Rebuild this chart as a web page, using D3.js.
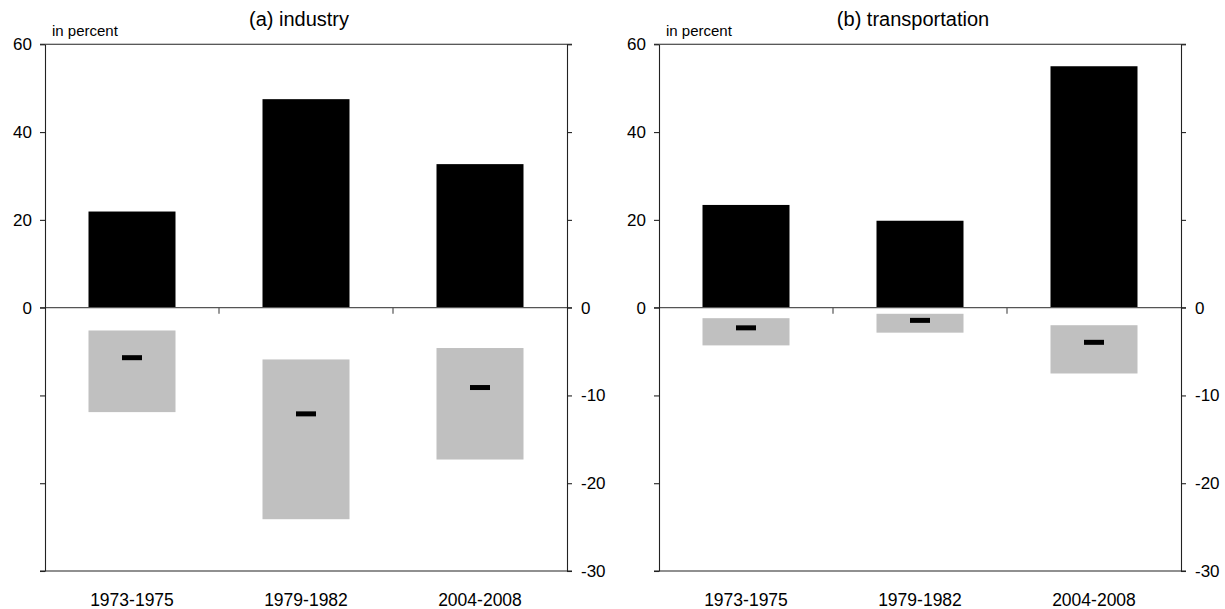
<!DOCTYPE html>
<html>
<head>
<meta charset="utf-8">
<script src="https://cdn.jsdelivr.net/npm/d3@7"></script>
<style>
  body { margin: 0; background: #fff; }
  svg { display: block; font-family: "Liberation Sans", Arial, Helvetica, sans-serif; }
</style>
</head>
<body>
<div id="chart"></div>
<script>
// categories
const periods = ["1973-1975", "1979-1982", "2004-2008"];

// (a) industry
const industryBars = [21.9, 47.5, 32.7];          // black bars, left scale
const industryRangeTop = [-2.6, -5.9, -4.6];      // grey boxes, right scale
const industryRangeBottom = [-11.9, -24.1, -17.3];
const industryMid = [-5.7, -12.1, -9.1];          // black markers, right scale

// (b) transportation
const transportBars = [23.4, 19.8, 55.0];
const transportRangeTop = [-1.2, -0.7, -2.0];
const transportRangeBottom = [-4.3, -2.85, -7.5];
const transportMid = [-2.3, -1.45, -3.95];

// axis ticks
const leftTicks = [60, 40, 20, 0, -20, -40, -60];
const leftLabels = [60, 40, 20, 0];
const rightTicks = [30, 20, 10, 0, -10, -20, -30];
const rightLabels = [0, -10, -20, -30];

const W = 1225, H = 609;
const plotW = 522, plotTop = 44.3, plotBottom = 571;

const svg = d3.select("#chart").append("svg")
  .attr("width", W)
  .attr("height", H);

const yLeft = d3.scaleLinear().domain([-60, 60]).range([plotBottom, plotTop]);
const yRight = d3.scaleLinear().domain([-30, 30]).range([plotBottom, plotTop]);
const x = d3.scaleBand().domain(periods).range([0, plotW])
  .paddingInner(0.5).paddingOuter(0.25);

function drawPanel(offsetX, title, bars, rTop, rBottom, mids) {
  const g = svg.append("g").attr("transform", "translate(" + offsetX + ",0)");

  // black bars
  g.selectAll("rect.bar")
    .data(bars)
    .enter().append("rect")
    .attr("class", "bar")
    .attr("x", (d, i) => x(periods[i]))
    .attr("width", x.bandwidth())
    .attr("y", d => yLeft(d))
    .attr("height", d => yLeft(0) - yLeft(d))
    .attr("fill", "#000");

  // grey ranges
  g.selectAll("rect.range")
    .data(rTop)
    .enter().append("rect")
    .attr("class", "range")
    .attr("x", (d, i) => x(periods[i]))
    .attr("width", x.bandwidth())
    .attr("y", d => yRight(d))
    .attr("height", (d, i) => yRight(rBottom[i]) - yRight(d))
    .attr("fill", "#c0c0c0");

  // markers
  g.selectAll("rect.mid")
    .data(mids)
    .enter().append("rect")
    .attr("class", "mid")
    .attr("x", (d, i) => x(periods[i]) + x.bandwidth() / 2 - 10)
    .attr("width", 20)
    .attr("y", d => yRight(d) - 2.5)
    .attr("height", 5)
    .attr("fill", "#000");

  // zero line
  g.append("line")
    .attr("x1", -5).attr("x2", plotW + 5)
    .attr("y1", yLeft(0)).attr("y2", yLeft(0))
    .attr("stroke", "#555").attr("stroke-width", 1.2);

  // separators between categories
  [1, 2].forEach(k => {
    const sx = x.step() * k;
    g.append("line")
      .attr("x1", sx).attr("x2", sx)
      .attr("y1", yLeft(0)).attr("y2", yLeft(0) + 6)
      .attr("stroke", "#555").attr("stroke-width", 1.2);
  });

  // frame top / bottom
  [plotTop, plotBottom].forEach(yy => {
    g.append("line")
      .attr("x1", -5).attr("x2", plotW + 5)
      .attr("y1", yy).attr("y2", yy)
      .attr("stroke", "#222").attr("stroke-width", 1.1);
  });

  // left axis
  const ax = g.append("g")
    .call(d3.axisLeft(yLeft)
      .tickValues(leftTicks)
      .tickSize(5)
      .tickSizeOuter(0)
      .tickPadding(8)
      .tickFormat(d => leftLabels.includes(d) ? d : ""));
  ax.select(".domain").attr("stroke", "#222").attr("stroke-width", 1.1);
  ax.selectAll(".tick line").attr("stroke", "#222").attr("stroke-width", 1.1);
  ax.selectAll("text").attr("font-size", 17).attr("fill", "#000");
  ax.attr("font-family", null).attr("font-size", null);

  // right axis
  const ar = g.append("g")
    .attr("transform", "translate(" + plotW + ",0)")
    .call(d3.axisRight(yRight)
      .tickValues(rightTicks)
      .tickSize(5)
      .tickSizeOuter(0)
      .tickPadding(9)
      .tickFormat(d => rightLabels.includes(d) ? d : ""));
  ar.select(".domain").attr("stroke", "#222").attr("stroke-width", 1.1);
  ar.selectAll(".tick line").attr("stroke", "#222").attr("stroke-width", 1.1);
  ar.selectAll("text").attr("font-size", 17).attr("fill", "#000");
  ar.attr("font-family", null).attr("font-size", null);

  // category labels
  g.selectAll("text.cat")
    .data(periods)
    .enter().append("text")
    .attr("class", "cat")
    .attr("x", d => x(d) + x.bandwidth() / 2)
    .attr("y", 606)
    .attr("text-anchor", "middle")
    .attr("font-size", 17.5)
    .text(d => d);

  // titles
  g.append("text")
    .attr("x", plotW / 2 - 7)
    .attr("y", 26)
    .attr("text-anchor", "middle")
    .attr("font-size", 20)
    .text(title);

  g.append("text")
    .attr("x", 7)
    .attr("y", 36)
    .attr("font-size", 15)
    .text("in percent");
}

drawPanel(45, "(a) industry", industryBars, industryRangeTop, industryRangeBottom, industryMid);
drawPanel(659, "(b) transportation", transportBars, transportRangeTop, transportRangeBottom, transportMid);
</script>
</body>
</html>
